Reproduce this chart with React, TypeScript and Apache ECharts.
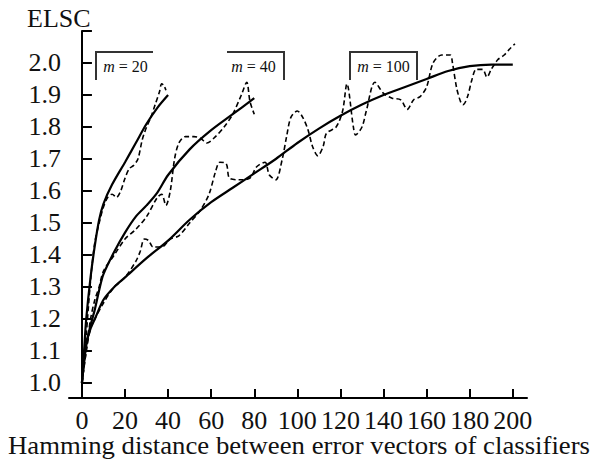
import React, { useEffect, useRef } from "react";
import * as echarts from "echarts";

const xTicks = [0, 20, 40, 60, 80, 100, 120, 140, 160, 180, 200];
const yLabels = [1.0, 1.1, 1.2, 1.3, 1.4, 1.5, 1.6, 1.7, 1.8, 1.9, 2.0];
const yTicks = [1.0, 1.1, 1.2, 1.3, 1.4, 1.5, 1.6, 1.7, 1.8, 1.9, 2.0, 2.1];
const xTitle = "Hamming distance between error vectors of classifiers";
const yTitle = "ELSC";

const fit20: [number, number][] = [
  [0, 1.0], [1, 1.1], [2, 1.2], [4, 1.33], [6, 1.43], [8, 1.51], [10, 1.56],
  [14, 1.62], [20, 1.69], [25, 1.75], [30, 1.81], [35, 1.86], [40, 1.9],
];
const raw20: [number, number][] = [
  [0, 1.0], [2, 1.15], [4, 1.32], [6, 1.44], [8, 1.5], [10, 1.55], [12, 1.58],
  [14, 1.59], [16, 1.58], [18, 1.6], [20, 1.64], [22, 1.67], [24, 1.68], [26, 1.7],
  [28, 1.76], [30, 1.8], [32, 1.83], [34, 1.87], [36, 1.91], [37, 1.935], [38, 1.93], [39, 1.915],
];
const fit40: [number, number][] = [
  [0, 1.0], [2, 1.12], [4, 1.18], [6, 1.23], [8, 1.29], [10, 1.34], [15, 1.41],
  [20, 1.47], [25, 1.52], [30, 1.555], [35, 1.595], [40, 1.65], [50, 1.73],
  [60, 1.79], [70, 1.84], [80, 1.89],
];
const raw40: [number, number][] = [
  [0, 1.0], [2, 1.1], [4, 1.2], [6, 1.26], [8, 1.3], [10, 1.35], [15, 1.4],
  [20, 1.45], [25, 1.48], [30, 1.52], [35, 1.58], [37, 1.59], [39, 1.555],
  [41, 1.6], [43, 1.7], [45, 1.75], [48, 1.77], [52, 1.77], [55, 1.765],
  [58, 1.75], [62, 1.77], [66, 1.8], [70, 1.84], [74, 1.9], [76.5, 1.94],
  [78, 1.88], [80, 1.84],
];
const fit100: [number, number][] = [
  [0, 1.0], [2, 1.12], [4, 1.17], [6, 1.2], [10, 1.26], [15, 1.3], [20, 1.33],
  [30, 1.39], [40, 1.445], [50, 1.51], [60, 1.565], [70, 1.61], [80, 1.655],
  [90, 1.7], [100, 1.75], [110, 1.795], [120, 1.835], [130, 1.87], [140, 1.9],
  [150, 1.925], [160, 1.95], [170, 1.975], [180, 1.99], [190, 1.995], [200, 1.995],
];
const raw100: [number, number][] = [
  [0, 1.0], [2, 1.1], [4, 1.17], [6, 1.2], [10, 1.25], [15, 1.3], [20, 1.33],
  [25, 1.38], [27, 1.41], [29, 1.45], [31, 1.445], [33, 1.425], [37, 1.425],
  [41, 1.45], [45, 1.46], [50, 1.5], [55, 1.54], [59, 1.59], [62, 1.66],
  [64, 1.69], [67, 1.685], [68.5, 1.64], [73, 1.635], [78, 1.64], [81, 1.675],
  [85, 1.69], [87, 1.65], [90, 1.635], [93, 1.7], [95, 1.77], [97, 1.83],
  [100, 1.85], [102.5, 1.83], [105, 1.79], [107, 1.74], [109.5, 1.71],
  [112, 1.74], [113.5, 1.78], [118, 1.8], [121, 1.85], [123, 1.935], [126, 1.8],
  [127, 1.775], [130, 1.8], [132, 1.85], [136, 1.94], [140, 1.905], [144, 1.89],
  [148, 1.885], [151, 1.855], [154, 1.885], [157, 1.895], [160, 1.925],
  [163, 2.0], [167, 2.025], [171, 2.025], [172, 2.0], [174, 1.92], [176, 1.875],
  [177, 1.87], [179, 1.895], [181, 1.947], [183, 1.98], [186, 1.98], [188, 1.956],
  [190, 1.98], [193, 2.01], [196, 2.025], [199, 2.047], [201, 2.06],
];

const FONT = "Liberation Serif";
const FS = 26;

export default function App() {
  const ref = useRef<HTMLDivElement>(null);
  useEffect(() => {
    if (!ref.current) return;
    const chart = echarts.init(ref.current, undefined, { renderer: "svg" });
    const solid = (name: string, data: [number, number][]) => ({
      name, type: "line", data, showSymbol: false, smooth: 0.3,
      lineStyle: { color: "#000", width: 2.2 }, z: 3,
    });
    const dashed = (name: string, data: [number, number][]) => ({
      name, type: "line", data, showSymbol: false, smooth: 0.3,
      lineStyle: { color: "#000", width: 1.6, type: [5, 3] }, z: 2,
    });
    const boxStyle = { stroke: "#333", lineWidth: 2, fill: "none" };
    const labelText = (txt: string, cx: number) => ({
      type: "text", x: cx, y: 74,
      style: {
        text: `{i|m} = ${txt}`, align: "center", verticalAlign: "bottom",
        fontFamily: FONT, fontSize: 16, fill: "#111",
        rich: { i: { fontStyle: "italic", fontFamily: FONT, fontSize: 16 } },
      },
    });
    chart.setOption({
      animation: false,
      grid: { left: 69, right: 65, top: 31, bottom: 65, containLabel: false, outerBoundsMode: "none" },
      xAxis: {
        type: "value", min: -6, max: 206.6,
        axisLine: { show: true, lineStyle: { color: "#000", width: 2 } },
        axisTick: { show: true, inside: true, length: 9, customValues: xTicks, lineStyle: { color: "#000", width: 2 } },
        axisLabel: { customValues: xTicks, fontFamily: FONT, fontSize: FS, color: "#111", margin: 9 },
        splitLine: { show: false },
      },
      yAxis: {
        type: "value", min: 0.953, max: 2.1,
        axisLine: { show: true, lineStyle: { color: "#000", width: 2 } },
        axisTick: { show: true, inside: true, length: 10, customValues: yTicks, lineStyle: { color: "#000", width: 2 } },
        axisLabel: {
          customValues: yLabels, fontFamily: FONT, fontSize: FS, color: "#111", margin: 8,
          formatter: (v: number) => v.toFixed(1),
        },
        splitLine: { show: false },
      },
      graphic: [
        { type: "text", left: 27, top: 5, style: { text: yTitle, fontFamily: FONT, fontSize: FS, fill: "#111" } },
        {
          type: "text", x: 299, y: 458, scaleX: 1.07,
          style: { text: xTitle, fontFamily: FONT, fontSize: 25, fill: "#111", align: "center", verticalAlign: "bottom" },
        },
        { type: "polyline", shape: { points: [[96, 80], [96, 52], [153, 52]] }, style: boxStyle },
        { type: "polyline", shape: { points: [[227, 52], [284, 52], [284, 80]] }, style: boxStyle },
        { type: "polyline", shape: { points: [[350, 80], [350, 52], [417, 52], [417, 80]] }, style: boxStyle },
        labelText("20", 125.5),
        labelText("40", 253.5),
        labelText("100", 383.5),
      ],
      series: [
        dashed("m = 20 (observed)", raw20),
        dashed("m = 40 (observed)", raw40),
        dashed("m = 100 (observed)", raw100),
        solid("m = 20 (fit)", fit20),
        solid("m = 40 (fit)", fit40),
        solid("m = 100 (fit)", fit100),
      ],
    });
    return () => chart.dispose();
  }, []);
  return <div ref={ref} style={{ width: 592, height: 463, position: "absolute", left: 0, top: 0, background: "#fff" }} />;
}
